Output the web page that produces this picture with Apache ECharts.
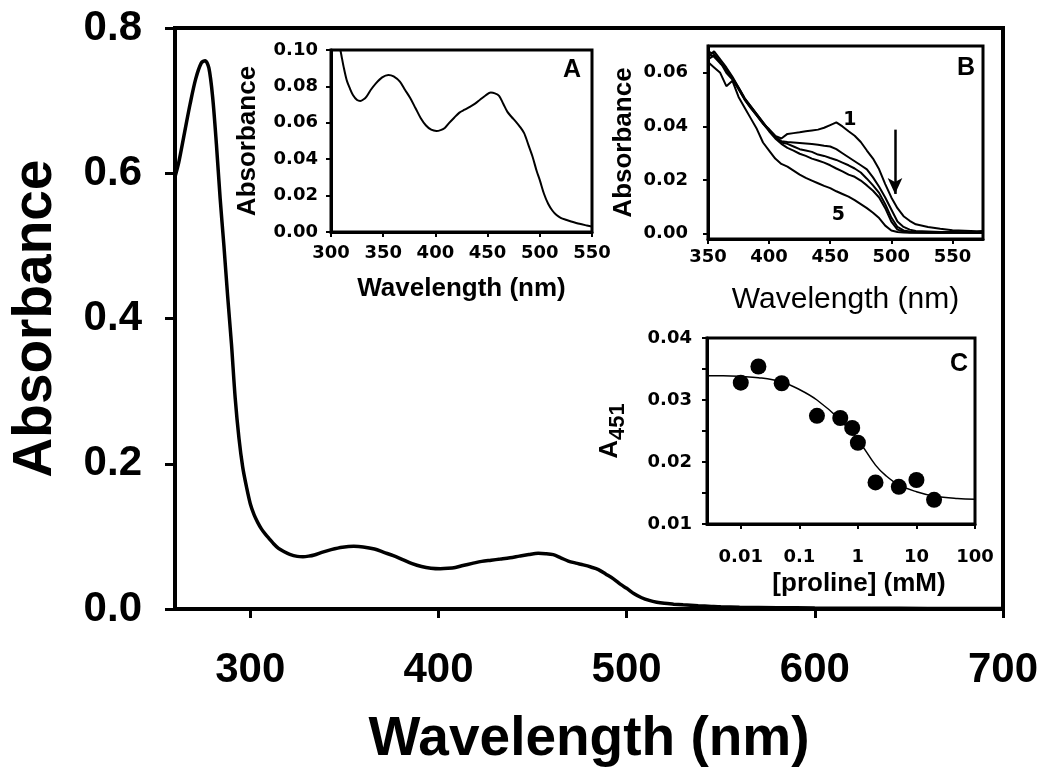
<!DOCTYPE html>
<html><head><meta charset="utf-8">
<script src="https://cdn.jsdelivr.net/npm/echarts@6/dist/echarts.min.js"></script>
<style>html,body{margin:0;padding:0;background:#fff}#c{width:1050px;height:773px}</style>
</head><body><div id="c"></div>
<script>
// ---------- main spectrum (also used by inset A) ----------
const mainWavelength = [260,262,265,268,271,274,276,278,280,282,284,286,288,290,292,294,296,298,300,302,304,306,308,310,312,315,318,321,325,328,331,334,338,343,349,355,360,366,371,376,381,386,391,396,401,405,409,413,418,423,428,433,438,443,448,453,457,461,465,469,473,477,481,485,489,493,497,500,504,508,512,516,520,525,530,538,545,550,560,580,600,630,660,700];
const mainAbsorbance = [0.595,0.615,0.655,0.695,0.73,0.752,0.755,0.745,0.705,0.64,0.565,0.50,0.43,0.365,0.29,0.235,0.195,0.168,0.145,0.13,0.119,0.11,0.103,0.097,0.091,0.0835,0.079,0.0753,0.0725,0.072,0.0728,0.0744,0.078,0.0817,0.085,0.0863,0.0855,0.0826,0.078,0.0735,0.068,0.0625,0.0585,0.0562,0.0555,0.056,0.0572,0.0598,0.0628,0.0656,0.0672,0.0688,0.0705,0.0728,0.075,0.0766,0.0762,0.0748,0.0705,0.066,0.0632,0.0607,0.0578,0.0543,0.048,0.0415,0.0335,0.0285,0.021,0.0155,0.0118,0.0093,0.0078,0.0067,0.0058,0.0045,0.0036,0.003,0.0024,0.0018,0.0014,0.001,0.0008,0.0006];
const mainXTicks = [300,400,500,600,700];

// ---------- inset B: spectra 1..5 ----------
const bWavelength = [350,355,360,365,370,375,380,385,390,395,400,405,410,415,420,425,430,435,440,445,450,455,460,465,470,475,480,485,490,495,500,505,510,515,520,530,540,550,560,570,575];
const bSpectrum1 = [0.068,0.067,0.064,0.061,0.058,0.054,0.050,0.047,0.044,0.041,0.039,0.0365,0.0355,0.0372,0.0375,0.0378,0.0382,0.0385,0.0388,0.0395,0.0405,0.0415,0.040,0.0382,0.0365,0.0342,0.031,0.028,0.024,0.0185,0.0135,0.0095,0.0065,0.0048,0.0035,0.0025,0.0018,0.0013,0.0011,0.0009,0.001];
const bSpectrum2 = [0.066,0.068,0.065,0.062,0.0585,0.0545,0.0505,0.0475,0.0445,0.0415,0.0385,0.036,0.0345,0.0342,0.034,0.0338,0.0336,0.0334,0.0332,0.0328,0.0325,0.0315,0.030,0.0285,0.027,0.0255,0.024,0.021,0.0175,0.0135,0.009,0.0045,0.0025,0.0015,0.001,0.0008,0.0006,0.0006,0.0005,0.0004,0.0005];
const bSpectrum3 = [0.067,0.066,0.0635,0.0615,0.058,0.0545,0.0505,0.0475,0.0445,0.0415,0.0385,0.036,0.034,0.0335,0.0325,0.0315,0.031,0.0305,0.0295,0.029,0.0282,0.0275,0.0265,0.0255,0.0243,0.0228,0.0205,0.018,0.0152,0.011,0.006,0.0025,0.0012,0.0008,0.0006,0.0005,0.0004,0.0004,0.0003,0.0003,0.0003];
const bSpectrum4 = [0.065,0.0665,0.064,0.060,0.0575,0.054,0.050,0.0468,0.044,0.041,0.0382,0.0355,0.0335,0.032,0.031,0.0298,0.029,0.028,0.0273,0.0265,0.0255,0.0243,0.0232,0.022,0.0212,0.0198,0.018,0.016,0.0135,0.0095,0.0045,0.0015,0.0008,0.0005,0.0004,0.0003,0.0003,0.0003,0.0003,0.0003,0.0003];
const bSpectrum5 = [0.064,0.062,0.060,0.055,0.057,0.051,0.047,0.043,0.039,0.034,0.031,0.028,0.026,0.025,0.0235,0.022,0.0208,0.0198,0.0188,0.0178,0.017,0.0158,0.0148,0.0138,0.0125,0.011,0.0095,0.0078,0.0058,0.003,0.0012,0.0006,0.0004,0.0003,0.0003,0.0003,0.0003,0.0003,0.0003,0.0003,0.0003];
const bXTicks = [350,400,450,500,550];
const bYTicks = [0,0.02,0.04,0.06];

// ---------- inset C: titration ----------
const cProline = [0.01,0.02,0.05,0.2,0.5,0.8,1,2,5,10,20];
const cA451 = [0.0328,0.0354,0.0327,0.02745,0.0271,0.0255,0.0231,0.0167,0.0160,0.0171,0.0139];
const cFitProline = [0.00265,0.005,0.01,0.02,0.05,0.1,0.2,0.5,1,2,3,5,10,20,50,100];
const cFitA451 = [0.0339,0.0339,0.0338,0.0336,0.0329,0.0317,0.0300,0.0268,0.0236,0.0195,0.0178,0.0163,0.0152,0.0145,0.0141,0.0140];
const cXTicks = [0.01,0.1,1,10,100];
const cYLabels = [0.01,0.02,0.03,0.04];

const zip = (xs, ys) => xs.map((x, i) => [x, ys[i]]);
const K = '#000';
const ARIAL = 'Liberation Sans';
const DEJA = 'DejaVu Sans';

function gridBox(left, top, width, height, bw) {
  return {left, top, width, height, show: true, borderColor: K, borderWidth: bw,
          backgroundColor: 'transparent', containLabel: false, outerBoundsMode: 'none'};
}
function axisBase(lw, tickLen, tickW, labelFont, labelSize, margin) {
  return {
    axisLine: {show: true, onZero: false, lineStyle: {color: K, width: lw}},
    axisTick: {show: true, inside: false, length: tickLen, lineStyle: {color: K, width: tickW}},
    axisLabel: {show: true, color: K, fontFamily: labelFont, fontWeight: 'bold', fontSize: labelSize, margin},
    splitLine: {show: false},
    nameLocation: 'middle',
    nameMoveOverlap: false
  };
}
function merge(a, b) {
  const o = Object.assign({}, a, b);
  ['axisLine','axisTick','axisLabel'].forEach(k => { if (a[k] && b[k]) o[k] = Object.assign({}, a[k], b[k]); });
  return o;
}

const chart = echarts.init(document.getElementById('c'), null, {renderer: 'canvas'});
const option = {
  animation: false,
  backgroundColor: '#fff',
  grid: [
    gridBox(175, 28, 828, 581, 4),
    gridBox(331, 50, 261, 182, 3),
    gridBox(708, 46, 275, 193, 3),
    gridBox(707, 338, 268, 186, 3)
  ],
  xAxis: [
    merge(axisBase(4, 9, 3, ARIAL, 42, 40), {
      gridIndex: 0, type: 'value', min: 260, max: 700,
      axisTick: {customValues: mainXTicks},
      axisLabel: {customValues: mainXTicks},
      name: 'Wavelength (nm)', nameGap: 103,
      nameTextStyle: {color: K, fontFamily: ARIAL, fontWeight: 'bold', fontSize: 55}
    }),
    merge(axisBase(3, 5, 2, DEJA, 18, 12), {
      gridIndex: 1, type: 'value', min: 300, max: 550, interval: 50,
      name: 'Wavelength (nm)', nameGap: 44,
      nameTextStyle: {color: K, fontFamily: ARIAL, fontWeight: 'bold', fontSize: 26}
    }),
    merge(axisBase(3, 5, 2, DEJA, 18, 9), {
      gridIndex: 2, type: 'value', min: 350, max: 575,
      axisTick: {customValues: bXTicks},
      axisLabel: {customValues: bXTicks},
      name: 'Wavelength (nm)', nameGap: 46,
      nameTextStyle: {color: K, fontFamily: ARIAL, fontWeight: 'normal', fontSize: 30}
    }),
    merge(axisBase(3, 5, 2, DEJA, 18, 24), {
      gridIndex: 3, type: 'log', logBase: 10, min: 0.00265, max: 100,
      axisTick: {customValues: cXTicks},
      axisLabel: {customValues: cXTicks, formatter: v => String(+v.toPrecision(3))},
      minorTick: {show: false},
      name: '[proline] (mM)', nameGap: 47,
      nameTextStyle: {color: K, fontFamily: ARIAL, fontWeight: 'bold', fontSize: 26, padding: [0, 0, 0, 36]}
    })
  ],
  yAxis: [
    merge(axisBase(4, 10, 3, ARIAL, 42, 33), {
      gridIndex: 0, type: 'value', min: 0, max: 0.8, interval: 0.2,
      axisLabel: {formatter: v => v.toFixed(1)},
      name: 'Absorbance', nameGap: 112,
      nameTextStyle: {color: K, fontFamily: ARIAL, fontWeight: 'bold', fontSize: 55}
    }),
    merge(axisBase(3, 5, 2, DEJA, 18, 13), {
      gridIndex: 1, type: 'value', min: 0, max: 0.1, interval: 0.02,
      axisLabel: {formatter: v => v.toFixed(2)},
      name: 'Absorbance', nameGap: 70,
      nameTextStyle: {color: K, fontFamily: ARIAL, fontWeight: 'bold', fontSize: 26}
    }),
    merge(axisBase(3, 5, 2, DEJA, 18, 20), {
      gridIndex: 2, type: 'value', min: -0.002, max: 0.07,
      axisTick: {customValues: bYTicks},
      axisLabel: {customValues: bYTicks, formatter: v => v.toFixed(2)},
      name: 'Absorbance', nameGap: 71,
      nameTextStyle: {color: K, fontFamily: ARIAL, fontWeight: 'bold', fontSize: 26}
    }),
    merge(axisBase(3, 5, 2, DEJA, 18, 15), {
      gridIndex: 3, type: 'value', min: 0.01, max: 0.04, interval: 0.005,
      axisLabel: {customValues: cYLabels, formatter: v => v.toFixed(2)},
      name: '{a|A}{s|451}', nameGap: 78,
      nameTextStyle: {color: K, fontFamily: ARIAL, fontWeight: 'bold', fontSize: 26,
        rich: {
          a: {fontFamily: ARIAL, fontWeight: 'bold', fontSize: 26, lineHeight: 32, verticalAlign: 'top', color: K},
          s: {fontFamily: ARIAL, fontWeight: 'bold', fontSize: 22, lineHeight: 20, verticalAlign: 'bottom', color: K}
        }}
    })
  ],
  series: [
    {type: 'line', name: 'spectrum', xAxisIndex: 0, yAxisIndex: 0, data: zip(mainWavelength, mainAbsorbance),
     showSymbol: false, smooth: 0.3, lineStyle: {color: K, width: 3.5}, silent: true},
    {type: 'line', name: 'inset A', xAxisIndex: 1, yAxisIndex: 1, data: zip(mainWavelength, mainAbsorbance),
     showSymbol: false, smooth: 0.3, clip: true, lineStyle: {color: K, width: 2}, silent: true},
    {type: 'line', name: 'B1', xAxisIndex: 2, yAxisIndex: 2, data: zip(bWavelength, bSpectrum1),
     showSymbol: false, lineStyle: {color: K, width: 2}, silent: true,
     markPoint: {symbol: 'circle', symbolSize: 0, silent: true,
       label: {show: true, color: K, fontFamily: DEJA, fontWeight: 'bold', fontSize: 19, formatter: p => p.name},
       data: [{name: '1', coord: [466, 0.0425]}, {name: '5', coord: [456.6, 0.0069]}]},
     markLine: {symbol: ['none', 'arrow'], symbolSize: [11, 16], silent: true,
       lineStyle: {color: K, width: 2.5, type: 'solid'}, label: {show: false},
       data: [[{coord: [503, 0.0388]}, {coord: [503, 0.0148]}]]}},
    {type: 'line', name: 'B2', xAxisIndex: 2, yAxisIndex: 2, data: zip(bWavelength, bSpectrum2),
     showSymbol: false, lineStyle: {color: K, width: 2}, silent: true},
    {type: 'line', name: 'B3', xAxisIndex: 2, yAxisIndex: 2, data: zip(bWavelength, bSpectrum3),
     showSymbol: false, lineStyle: {color: K, width: 2}, silent: true},
    {type: 'line', name: 'B4', xAxisIndex: 2, yAxisIndex: 2, data: zip(bWavelength, bSpectrum4),
     showSymbol: false, lineStyle: {color: K, width: 2}, silent: true},
    {type: 'line', name: 'B5', xAxisIndex: 2, yAxisIndex: 2, data: zip(bWavelength, bSpectrum5),
     showSymbol: false, lineStyle: {color: K, width: 2}, silent: true},
    {type: 'line', name: 'fit', xAxisIndex: 3, yAxisIndex: 3, data: zip(cFitProline, cFitA451),
     showSymbol: false, smooth: 0.4, lineStyle: {color: K, width: 1.5}, silent: true},
    {type: 'scatter', name: 'A451', xAxisIndex: 3, yAxisIndex: 3, data: zip(cProline, cA451),
     symbol: 'circle', symbolSize: 16, itemStyle: {color: K, opacity: 1}, silent: true}
  ],
  graphic: [
    {type: 'text', left: 563, top: 58, style: {text: 'A', fill: K, font: 'bold 25px "Liberation Sans"'}},
    {type: 'text', left: 957, top: 56, style: {text: 'B', fill: K, font: 'bold 25px "Liberation Sans"'}},
    {type: 'text', left: 950, top: 352, style: {text: 'C', fill: K, font: 'bold 25px "Liberation Sans"'}}
  ]
};
chart.setOption(option);
</script></body></html>
